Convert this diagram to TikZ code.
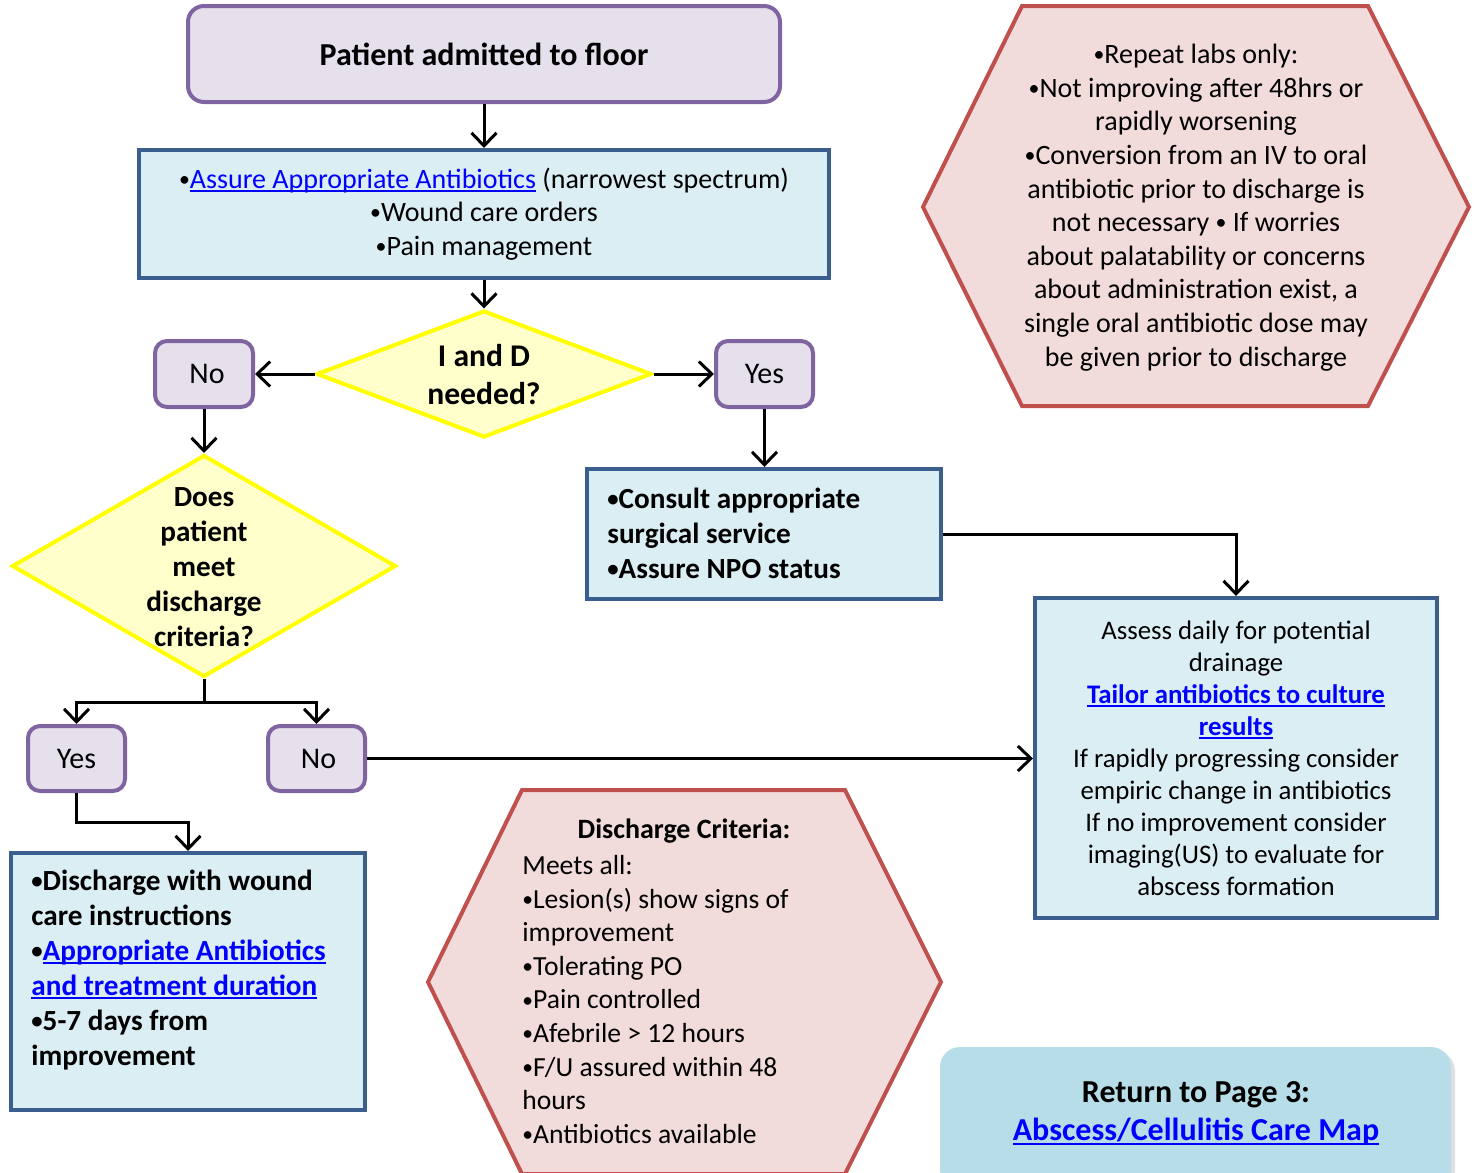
\documentclass[tikz,border=0pt]{standalone}
\usepackage{fontspec}
\usepackage{graphicx}
\setmainfont{Carlito}
\usetikzlibrary{arrows.meta,shapes.geometric,shadows,calc}
\definecolor{lavfill}{HTML}{E5E0EC}
\definecolor{lavline}{HTML}{8064A2}
\definecolor{bluefill}{HTML}{DBEEF4}
\definecolor{blueline}{HTML}{3A5F8E}
\definecolor{yelfill}{HTML}{FFFFCC}
\definecolor{yelline}{HTML}{FFFF00}
\definecolor{hexfill}{HTML}{F2DCDB}
\definecolor{hexline}{HTML}{C0504D}
\definecolor{retfill}{HTML}{B7DEE8}
\definecolor{linkblue}{HTML}{0000FF}
\newsavebox{\ulbox}
\newcommand{\myul}[1]{\sbox{\ulbox}{#1}\rlap{\rule[-2pt]{\wd\ulbox}{1pt}}\usebox{\ulbox}}
\newcommand{\lnk}[1]{\textcolor{linkblue}{\myul{#1}}}
\newcommand{\bul}{\raisebox{0.07em}{\scalebox{0.78}{•}}}
\begin{document}
\begin{tikzpicture}[x=0.5pt,y=-0.5pt,
  lav/.style={draw=lavline, fill=lavfill, line width=2pt, rounded corners=6pt, inner sep=0pt, font=\fontsize{15}{18}\selectfont},
  bluebox/.style={draw=blueline, fill=bluefill, line width=2pt, inner sep=0pt},
  dia/.style={diamond, draw=yelline, fill=yelfill, line width=2pt, inner sep=0pt},
  hexa/.style={draw=hexline, fill=hexfill, line width=2pt},
  arr/.style={line width=1.5pt, -{Straight Barb[length=6.5pt,width=12.5pt]}},
  plain/.style={line width=1.5pt},
  txt/.style={inner sep=0pt, font=\fontsize{14}{16.8}\selectfont},
  btxt/.style={inner sep=0pt, font=\bfseries\fontsize{14.6}{17.5}\selectfont}
]
\useasboundingbox (0,0) rectangle (1474,1173);

% hexagons
\draw[hexa] (923,207) -- (1022,6) -- (1368,6) -- (1469,207) -- (1368,406) -- (1022,406) -- cycle;
\node[txt, align=center] (hexonetext) at (1196,207.5) {\bul Repeat labs only:\\\bul Not improving after 48hrs or\\rapidly worsening\\\bul Conversion from an IV to oral\\antibiotic prior to discharge is\\not necessary \bul{} If worries\\about palatability or concerns\\about administration exist, a\\single oral antibiotic dose may\\be given prior to discharge};

\draw[hexa] (428,982) -- (522,790) -- (845,790) -- (941,982) -- (845,1174) -- (522,1174) -- cycle;
\node[btxt, font=\bfseries\fontsize{14}{17}\selectfont] (hextwotitle) at (684,831) {Discharge Criteria:};
\node[txt, align=left, anchor=west, font=\fontsize{13.8}{16.8}\selectfont] (hextwotext) at (522,999.5) {Meets all:\\\bul Lesion(s) show signs of\\improvement\\\bul Tolerating PO\\\bul Pain controlled\\\bul Afebrile > 12 hours\\\bul F/U assured within 48\\hours\\\bul Antibiotics available};

% boxes
\node[lav, rounded corners=8pt, minimum width=296pt, minimum height=48pt, font=\bfseries\fontsize{16}{19}\selectfont] (top) at (484,54) {Patient admitted to floor};

\node[bluebox, minimum width=345pt, minimum height=64pt, align=center, font=\fontsize{14}{16.8}\selectfont] (bone) at (484,214) {\bul\lnk{Assure Appropriate Antibiotics} (narrowest spectrum)\\\bul Wound care orders\\\bul Pain management};

\node[dia, minimum width=167.5pt, minimum height=63.5pt] (done) at (484,374) {};
\node[inner sep=0pt, align=center, font=\bfseries\fontsize{15.8}{19}\selectfont] (donetext) at (484,375) {I and D\\needed?};

\node[lav, minimum width=49pt, minimum height=33pt] (noone) at (204,374) {\hspace{3pt}No};
\node[lav, minimum width=48.5pt, minimum height=33pt] (yesone) at (764.5,374) {Yes};

\node[dia, minimum width=192pt, minimum height=111pt] (dtwo) at (204,566) {};
\node[btxt, align=center] (dtwotext) at (204,567) {Does\\patient\\meet\\discharge\\criteria?};

\node[lav, minimum width=48.5pt, minimum height=32.5pt] (yestwo) at (76.5,758.5) {Yes};
\node[lav, minimum width=48.5pt, minimum height=32.5pt] (notwo) at (316.5,758.5) {\hspace{2pt}No};

\node[bluebox, minimum width=177pt, minimum height=128.5pt] (dis) at (188,981.5) {};
\node[btxt, align=left, anchor=west] (distext) at (31,970) {\bul Discharge with wound\\care instructions\\\bul\lnk{Appropriate Antibiotics}\\\lnk{and treatment duration}\\\bul 5-7 days from\\improvement};

\node[bluebox, minimum width=177pt, minimum height=65pt] (consult) at (764,534) {};
\node[btxt, align=left, anchor=west] (consulttext) at (607,533.5) {\bul Consult appropriate\\surgical service\\\bul Assure NPO status};

\node[bluebox, minimum width=201pt, minimum height=160pt, align=center, font=\fontsize{13.4}{16}\selectfont] (assess) at (1236,758) {Assess daily for potential\\drainage\\\textbf{\lnk{Tailor antibiotics to culture}}\\\textbf{\lnk{results}}\\If rapidly progressing consider\\empiric change in antibiotics\\If no improvement consider\\imaging(US) to evaluate for\\abscess formation};

\node[fill=retfill, rounded corners=10pt, minimum width=255.5pt, minimum height=71.5pt, inner sep=0pt, drop shadow={shadow xshift=2pt, shadow yshift=-2pt, opacity=0.25}] (ret) at (1195.5,1118.5) {};
\node[inner sep=0pt, align=center, font=\bfseries\fontsize{16}{19}\selectfont] (rettext) at (1196,1114) {Return to Page 3:\\\lnk{Abscess/Cellulitis Care Map}};

% connectors
\draw[arr] (top.south) -- (bone.north);
\draw[arr] (bone.south) -- (done.north);
\draw[arr] (done.west) -- (noone.east);
\draw[arr] (done.east) -- (yesone.west);
\draw[arr] (noone.south) -- (dtwo.north);
\draw[arr] (yesone.south) -- (yesone.south |- consult.north);
\coordinate (split) at (204,702);
\draw[plain] (dtwo.south) -- (split);
\draw[arr] (split) -| (yestwo.north);
\draw[arr] (split) -| (notwo.north);
\coordinate (bend) at (76.5,822);
\draw[arr] (yestwo.south) -- (bend) -| (dis.north);
\draw[arr] (consult.east) -| (assess.north);
\draw[arr] (notwo.east) -- (notwo.east -| assess.west);
\end{tikzpicture}
\end{document}
